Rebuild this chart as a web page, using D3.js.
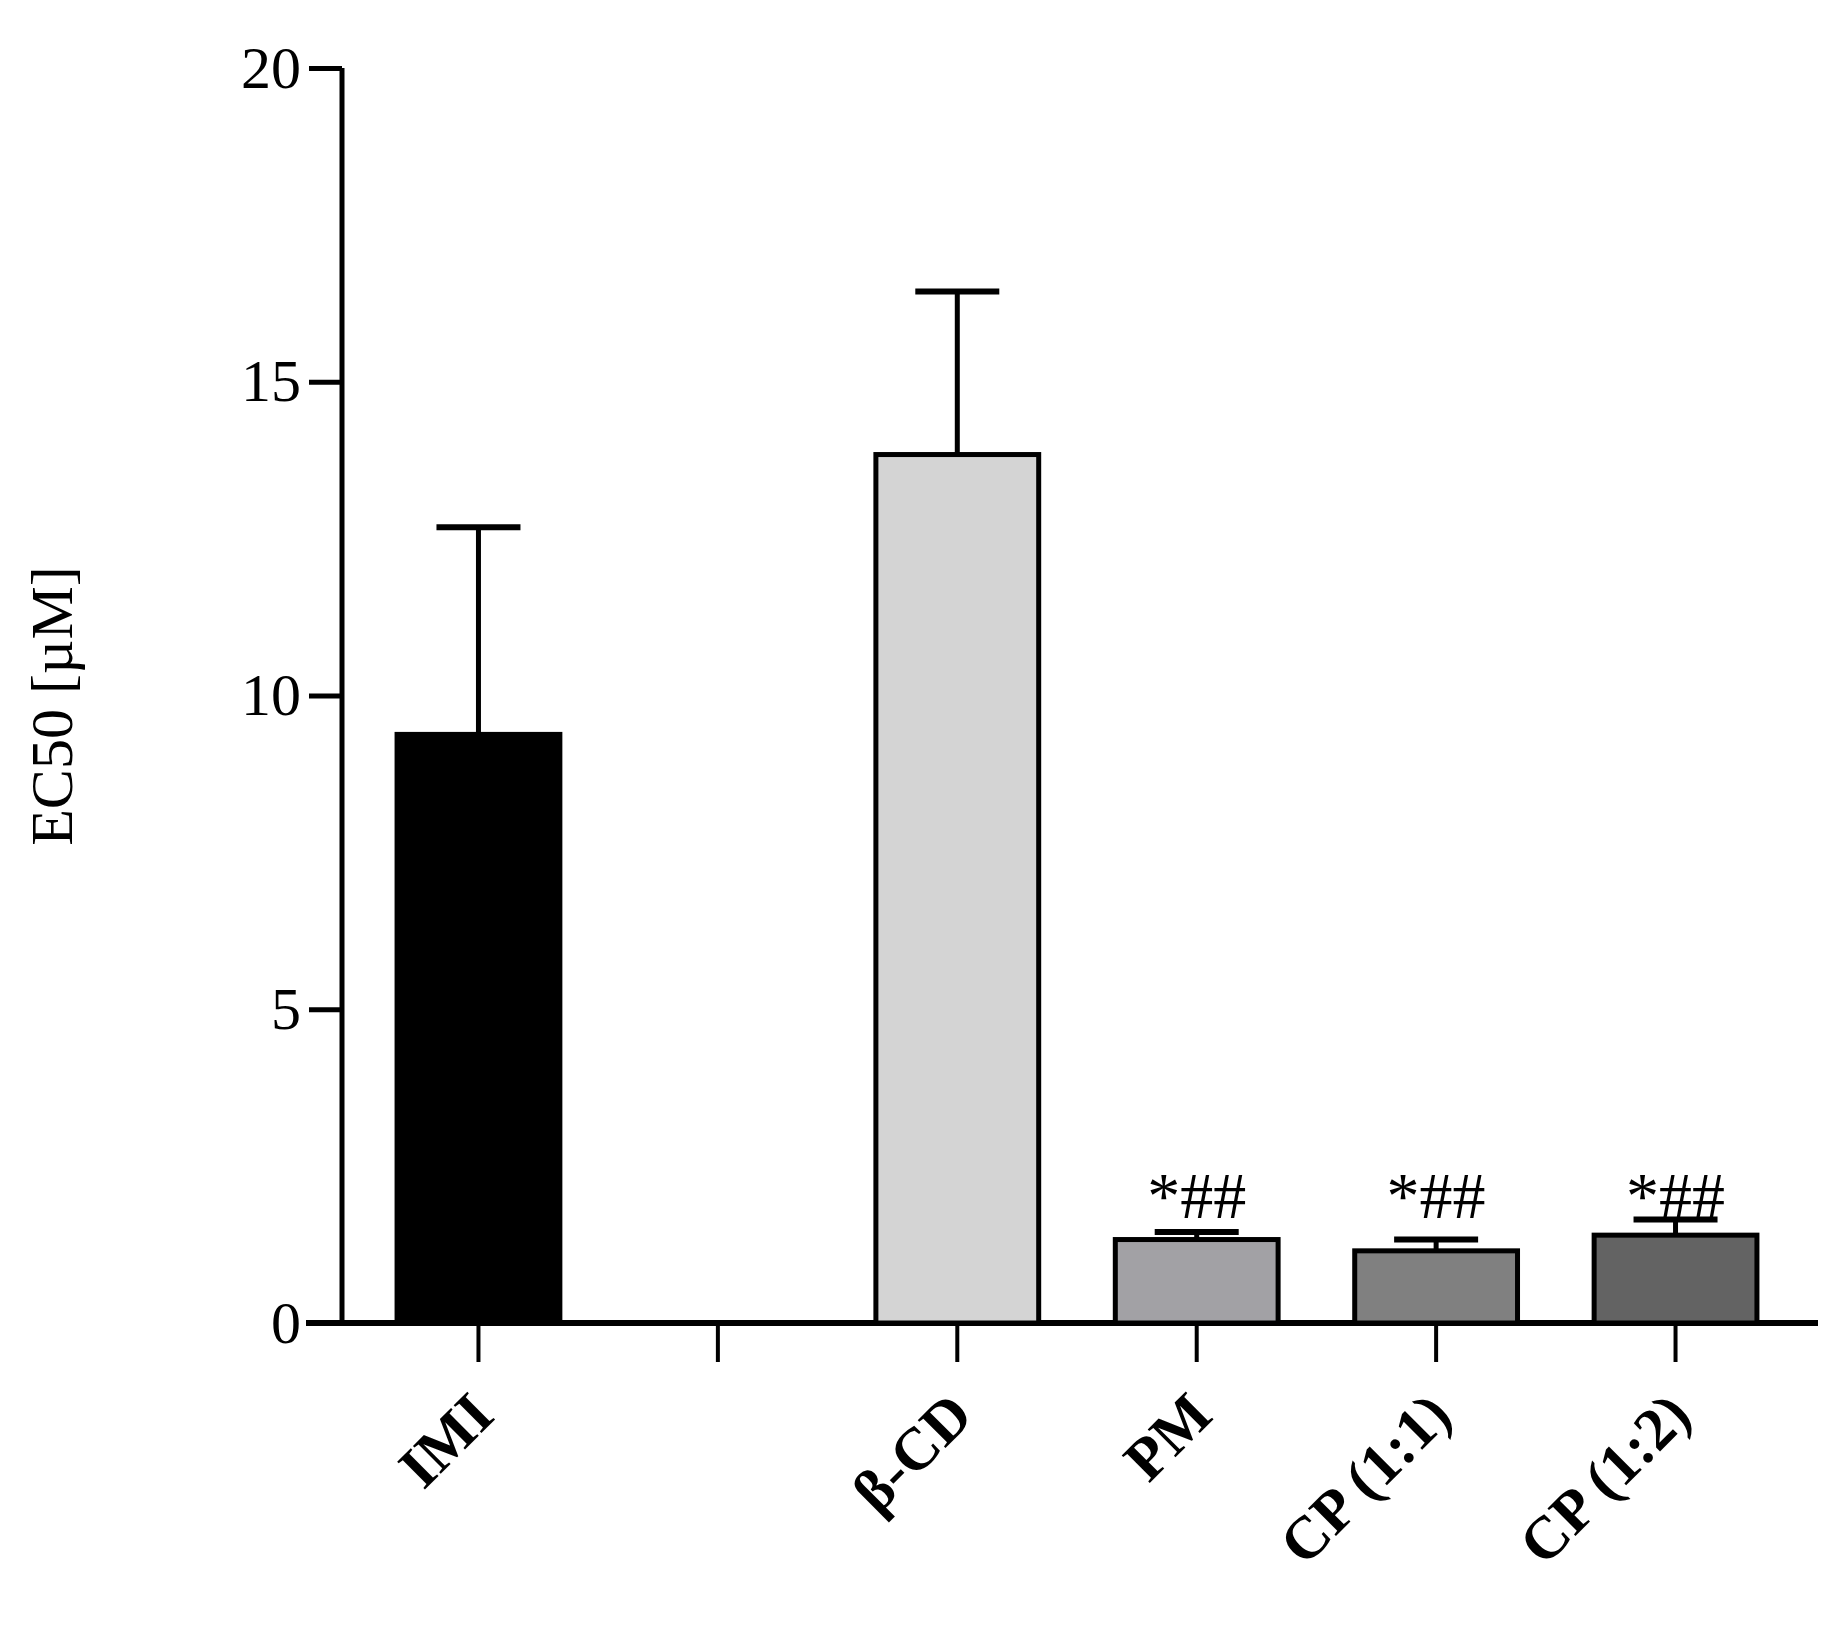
<!DOCTYPE html>
<html><head><meta charset="utf-8">
<script src="https://cdn.jsdelivr.net/npm/d3@7"></script>
<style>body{margin:0;background:#fff}text{font-family:"Liberation Serif","Times New Roman",serif}</style>
</head><body><svg id="c" width="1840" height="1647"></svg>
<script>
var categories=["IMI","","β-CD","PM","CP (1:1)","CP (1:2)"]
var values=[9.38,null,13.84,1.33,1.15,1.4]
var errors=[3.3,null,2.6,0.12,0.18,0.25]
var colors=["#000000",null,"#d4d4d4","#a2a1a5","#808080","#636363"]
var marks=["","","","*##","*##","*##"]
var yTicks=[0,5,10,15,20]

var svg=d3.select("#c")
var x0=342,x1=1818,yTop=68,yBot=1323
var x=d3.scaleBand().domain(d3.range(categories.length)).range([x0+(1818-x0)*0.0,x0+6*245]).paddingInner(0.32).paddingOuter(0.23)
var y=d3.scaleLinear().domain([0,20]).range([yBot,yTop])

// x axis
var gx=svg.append("g").attr("transform","translate(0,"+yBot+")")
gx.append("line").attr("x1",306).attr("x2",x1).attr("stroke","#000").attr("stroke-width",6)
gx.selectAll(".t").data(d3.range(categories.length)).enter().append("line")
  .attr("x1",d=>x(d)+x.bandwidth()/2).attr("x2",d=>x(d)+x.bandwidth()/2).attr("y1",0).attr("y2",39)
  .attr("stroke","#000").attr("stroke-width",4)
gx.selectAll(".lab").data(d3.range(categories.length)).enter().append("text")
  .attr("transform",d=>"translate("+(x(d)+x.bandwidth()/2+18)+",95) rotate(-45)")
  .attr("text-anchor","end").attr("font-weight","bold").attr("font-size",60).text(d=>categories[d])

// y axis
var gy=svg.append("g").attr("transform","translate("+x0+",0)")
gy.call(d3.axisLeft(y).tickValues(yTicks).tickSize(33).tickSizeOuter(0).tickPadding(8))
gy.select(".domain").attr("stroke-width",5).attr("d","M0,"+yTop+"V"+yBot)
gy.selectAll(".tick line").attr("stroke-width",5)
gy.selectAll(".tick text").attr("font-size",60).attr("font-family","Liberation Serif").attr("dy","0.32em")
svg.append("text").attr("transform","translate(72,706) rotate(-90)").attr("text-anchor","middle")
  .attr("font-size",60).text("EC50 [µM]")

var idx=d3.range(categories.length).filter(i=>values[i]!=null)
// error bars
idx.forEach(function(i){
  var cx=x(i)+x.bandwidth()/2
  svg.append("line").attr("x1",cx).attr("x2",cx).attr("y1",y(values[i])).attr("y2",y(values[i]+errors[i])).attr("stroke","#000").attr("stroke-width",5)
  svg.append("line").attr("x1",cx-42).attr("x2",cx+42).attr("y1",y(values[i]+errors[i])).attr("y2",y(values[i]+errors[i])).attr("stroke","#000").attr("stroke-width",6)
})
svg.selectAll(".bar").data(idx).enter().append("rect")
  .attr("x",d=>x(d)).attr("width",x.bandwidth()).attr("y",d=>y(values[d])).attr("height",d=>yBot-y(values[d]))
  .attr("fill",d=>colors[d]).attr("stroke","#000").attr("stroke-width",5)
svg.selectAll(".mk").data(idx).enter().append("text")
  .attr("x",d=>x(d)+x.bandwidth()/2).attr("y",1218).attr("text-anchor","middle").attr("font-size",66).text(d=>marks[d])
</script></body></html>
